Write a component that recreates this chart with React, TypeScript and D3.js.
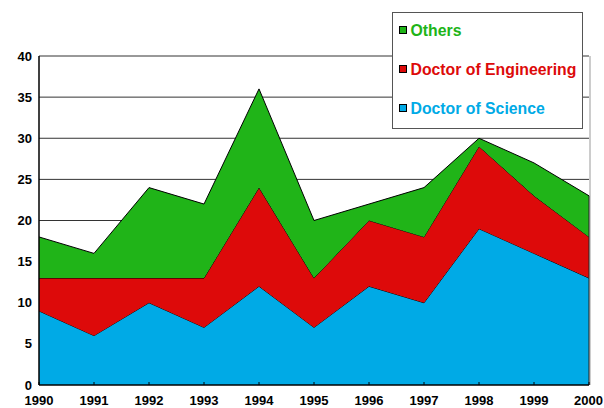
import React from "react";
import * as d3 from "d3";

const years = [1990, 1991, 1992, 1993, 1994, 1995, 1996, 1997, 1998, 1999, 2000];
const science = [9, 6, 10, 7, 12, 7, 12, 10, 19, 16, 13];
const engineering = [4, 7, 3, 6, 12, 6, 8, 8, 10, 7, 5];
const others = [5, 3, 11, 9, 12, 7, 2, 6, 1, 4, 5];
const seriesNames = ["Doctor of Science", "Doctor of Engineering", "Others"];
const seriesColors = ["#00AAE6", "#DD0A0A", "#20B418"];
const yTicks = [0, 5, 10, 15, 20, 25, 30, 35, 40];

export default function App() {
  const W = 604, H = 408;
  const x = d3.scaleLinear().domain([1990, 2000]).range([39, 589]);
  const y = d3.scaleLinear().domain([0, 40]).range([385, 56]);
  const rows = years.map((yr, i) => ({ year: yr, s0: science[i], s1: engineering[i], s2: others[i] }));
  const stack = d3.stack<any>().keys(["s0", "s1", "s2"]);
  const layers = stack(rows);
  const area = d3.area<any>().x((d) => x(d.data.year)).y0((d) => y(d[0])).y1((d) => y(d[1]));
  const topLine = d3.line<any>().x((d) => x(d.data.year)).y((d) => y(d[1]));
  const font = "Arial, 'Liberation Sans', sans-serif";
  const legendOrder = [2, 1, 0];
  return (
    <svg width={W} height={H} style={{ position: "absolute", left: 0, top: 0 }} fontFamily={font}>
      <rect x={0} y={0} width={W} height={H} fill="#fff" />
      {yTicks.slice(1).map((t) => (
        <line key={t} x1={x(1990)} x2={x(2000)} y1={y(t)} y2={y(t)} stroke="#333" strokeWidth={1} />
      ))}
      <line x1={x(2000) + 1} x2={x(2000) + 1} y1={y(40)} y2={y(0)} stroke="#999" strokeWidth={1} />
      {layers.map((L, i) => (
        <g key={i}>
          <path d={area(L) || ""} fill={seriesColors[i]} />
          <path d={topLine(L) || ""} fill="none" stroke="#000" strokeWidth={1} />
        </g>
      ))}
      <line x1={x(2000)} x2={x(2000)} y1={y(layers[2][10][1])} y2={y(0)} stroke="#222" strokeWidth={1} />
      <line x1={x(1990)} x2={x(1990)} y1={y(40)} y2={y(0)} stroke="#000" strokeWidth={1.5} />
      <line x1={x(1990)} x2={x(2000)} y1={y(0)} y2={y(0)} stroke="#000" strokeWidth={1.5} />
      {years.map((yr, i) => (
        <g key={yr}>
          <line x1={x(yr)} x2={x(yr)} y1={y(0)} y2={y(0) - 3} stroke="#000" strokeWidth={1} />
          <text x={i === years.length - 1 ? 603 : x(yr)} y={404.5} textAnchor={i === years.length - 1 ? "end" : "middle"} fontSize={13} fontWeight="bold" fill="#000">{yr}</text>
        </g>
      ))}
      {yTicks.map((t) => (
        <text key={t} x={32} y={y(t) + 4.5} textAnchor="end" fontSize={13} fontWeight="bold" fill="#000">{t}</text>
      ))}
      <rect x={392.5} y={12.5} width={190} height={116} fill="#fff" stroke="#555" strokeWidth={1} />
      {legendOrder.map((si, k) => {
        const cy = 30 + k * 39;
        return (
          <g key={si}>
            <rect x={399.5} y={cy - 3.5} width={7} height={7} fill={seriesColors[si]} stroke="#000" strokeWidth={1} />
            <text x={410.5} y={cy + 5.5} fontSize={15.8} fontWeight="bold" fill={seriesColors[si]}>{seriesNames[si]}</text>
          </g>
        );
      })}
    </svg>
  );
}
